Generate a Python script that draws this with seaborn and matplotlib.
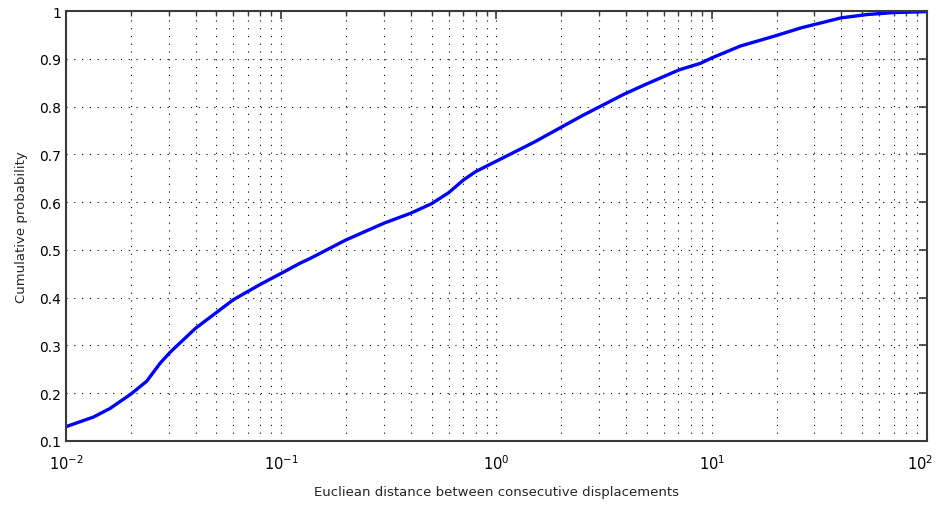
import numpy as np
import pandas as pd
import matplotlib
matplotlib.use("Agg")
import matplotlib.pyplot as plt
import matplotlib.ticker as mticker
import matplotlib.transforms as mtransforms
import seaborn as sns

# values (distance, cumulative probability)
distance = [0.01, 0.0134, 0.016, 0.02, 0.0237, 0.0274, 0.0305, 0.04, 0.05, 0.06,
            0.08, 0.1, 0.122, 0.136, 0.2, 0.3, 0.4, 0.5, 0.6, 0.7, 0.8, 1.0,
            1.29, 1.5, 2.0, 2.5, 3.05, 3.91, 4.84, 7.05, 8.89, 10.0, 13.6, 20.0,
            26.0, 40.0, 53.0, 70.0, 100.0]
cum_prob = [0.13, 0.15, 0.168, 0.198, 0.225, 0.263, 0.286, 0.336, 0.369, 0.396,
            0.428, 0.451, 0.472, 0.482, 0.521, 0.556, 0.577, 0.597, 0.62, 0.646,
            0.664, 0.686, 0.711, 0.726, 0.757, 0.781, 0.801, 0.826, 0.845, 0.877,
            0.891, 0.902, 0.927, 0.949, 0.965, 0.986, 0.993, 0.997, 0.999]
y_ticks = [0.1, 0.2, 0.3, 0.4, 0.5, 0.6, 0.7, 0.8, 0.9, 1.0]
y_labels = ["0.1", "0.2", "0.3", "0.4", "0.5", "0.6", "0.7", "0.8", "0.9", "1"]
x_ticks = [0.01, 0.1, 1, 10, 100]
x_labels = [r"$10^{-2}$", r"$10^{-1}$", r"$10^{0}$", r"$10^{1}$", r"$10^{2}$"]

df = pd.DataFrame({"distance": distance, "prob": cum_prob})

sns.set_style("white")
plt.rcParams['font.family'] = ['DejaVu Sans']

fig = plt.figure(figsize=(9.37, 5.06), dpi=100)
ax = fig.add_axes([0.0704, 0.1265, 0.9189, 0.8495])

sns.lineplot(data=df, x="distance", y="prob", color=(0, 0, 1), linewidth=2.4, ax=ax)

ax.set_xscale("log")
ax.set_xlim(0.01, 100)
ax.set_ylim(0.1, 1.0)
ax.set_yticks(y_ticks)
ax.set_yticklabels(y_labels)
ax.set_xticks(x_ticks)
ax.set_xticklabels(x_labels)
ax.xaxis.set_minor_locator(mticker.LogLocator(base=10, subs=np.arange(2, 10), numticks=20))
ax.xaxis.set_minor_formatter(mticker.NullFormatter())

dots = (0, (1, 6))
ax.grid(True, which="major", axis="both", color="black", linestyle=dots, linewidth=0.8)
ax.grid(True, which="minor", axis="x", color="black", linestyle=dots, linewidth=0.8)

for s in ax.spines.values():
    s.set_color("#3a3a3a")
    s.set_linewidth(1.5)
    s.set_visible(True)

ax.tick_params(which="both", direction="in", top=True, right=True, colors="#3a3a3a",
               labelcolor="black")
ax.tick_params(which="major", length=6, width=1.2)
ax.tick_params(which="minor", length=3.5, width=1.0)
ax.tick_params(axis="y", labelsize=10)
ax.tick_params(axis="x", labelsize=10.5, pad=9)

# keep the last label inside the figure
last = ax.xaxis.get_major_ticks()[-1].label1
last.set_transform(last.get_transform() +
                   mtransforms.ScaledTranslation(-5 / 72, 0, fig.dpi_scale_trans))

ax.set_xlabel("Eucliean distance between consecutive displacements", fontsize=9.5, labelpad=9)
ax.set_ylabel("Cumulative probability", fontsize=9.5, labelpad=8)

fig.savefig("out.png", dpi=100, facecolor="white")
